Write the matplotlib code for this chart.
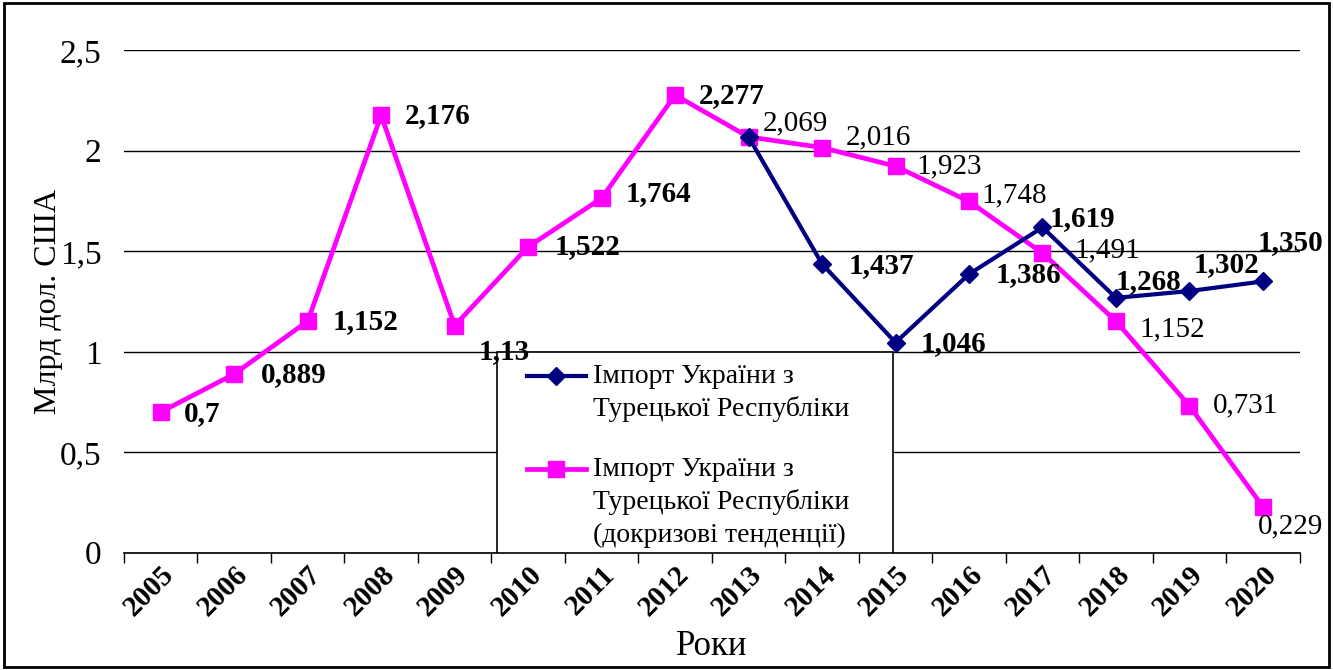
import matplotlib.pyplot as plt
from matplotlib.patches import Rectangle
from matplotlib.legend_handler import HandlerLine2D

plt.rcParams['font.family'] = ['Liberation Serif', 'DejaVu Serif']

# --------------------------------------------------
# Data
# --------------------------------------------------
years = ["2005", "2006", "2007", "2008", "2009", "2010", "2011", "2012",
         "2013", "2014", "2015", "2016", "2017", "2018", "2019", "2020"]

# pre-crisis trend (pink), whole period
trend_vals = [0.7, 0.889, 1.152, 2.176, 1.13, 1.522, 1.764, 2.277,
              2.069, 2.016, 1.923, 1.748, 1.491, 1.152, 0.731, 0.229]
trend_text = ["0,7", "0,889", "1,152", "2,176", "1,13", "1,522", "1,764", "2,277",
              "2,069", "2,016", "1,923", "1,748", "1,491", "1,152", "0,731", "0,229"]

# actual import (navy), from 2013
actual_years = years[8:]
actual_vals = [2.069, 1.437, 1.046, 1.386, 1.619, 1.268, 1.302, 1.350]
actual_text = [None, "1,437", "1,046", "1,386", "1,619", "1,268", "1,302", "1,350"]

yticks = [0, 0.5, 1, 1.5, 2, 2.5]
ytick_labels = ["0", "0,5", "1", "1,5", "2", "2,5"]

legend_actual = "Імпорт України з\nТурецької Республіки"
legend_trend = "Імпорт України з\nТурецької Республіки\n(докризові тенденції)"

# label offsets in points (dx, dy), text is left-aligned
trend_offsets = [(17, -1), (19, 0), (18, 0), (17, 0), (17, -19), (19, 0), (17, 3), (17, 0),
                 (10, 10), (17, 7), (15, 0), (9, 4), (23, 2), (17, -6), (17, 0), (-4, -14)]
actual_offsets = [None, (19, -1), (18, -1), (19, 0), (5, 6), (0, 12), (3, 19), (-4, 28)]


class FirstLineHandler(HandlerLine2D):
    # put the legend handle next to the first line of a multi-line label
    def __init__(self, nlines, **kw):
        super().__init__(**kw)
        self.nlines = nlines

    def create_artists(self, legend, orig_handle, xdescent, ydescent,
                       width, height, fontsize, trans):
        arts = super().create_artists(legend, orig_handle, xdescent, ydescent,
                                      width, height, fontsize, trans)
        shift = (self.nlines - 1) / 2 * 1.2 * fontsize
        for a in arts:
            a.set_ydata([y + shift for y in a.get_ydata()])
        return arts


# --------------------------------------------------
# Plot
# --------------------------------------------------
fig = plt.figure(figsize=(13.33, 6.70), dpi=100)
ax = fig.add_axes([0.093, 0.175, 0.882, 0.75])

x_trend = [i + 0.5 for i in range(len(years))]
x_actual = [years.index(y) + 0.5 for y in actual_years]

line_trend, = ax.plot(x_trend, trend_vals, color="#FF00FF", lw=3.4, marker="s", ms=12,
                      zorder=3)
line_actual, = ax.plot(x_actual, actual_vals, color="#000080", lw=3, marker="D", ms=9,
                       zorder=4)

for i, (xv, yv, t) in enumerate(zip(x_trend, trend_vals, trend_text)):
    dx, dy = trend_offsets[i]
    ax.annotate(t, (xv, yv), xytext=(dx, dy), textcoords="offset points",
                ha="left", va="center", fontsize=21,
                fontweight="bold" if i < 8 else "normal", zorder=6)

for i, (xv, yv, t) in enumerate(zip(x_actual, actual_vals, actual_text)):
    if t is None:
        continue
    dx, dy = actual_offsets[i]
    ax.annotate(t, (xv, yv), xytext=(dx, dy), textcoords="offset points",
                ha="left", va="center", fontsize=21, fontweight="bold", zorder=6)

ax.set_xlim(0, len(years))
ax.set_ylim(0, 2.5)
ax.set_yticks(yticks)
ax.set_yticklabels(ytick_labels, fontsize=24)
ax.tick_params(axis="y", length=0, pad=16)

ax.set_xticks(range(len(years) + 1))
ax.set_xticklabels([])
ax.set_xticks(x_trend, minor=True)
ax.set_xticklabels(years, minor=True, rotation=45, ha="right", va="top",
                   rotation_mode="anchor", fontsize=21, fontweight="bold")
ax.tick_params(axis="x", which="major", length=7, width=1, direction="out")
ax.tick_params(axis="x", which="minor", length=0, pad=6)

ax.grid(axis="y", color="black", lw=1)
ax.set_axisbelow(True)
for s in ["left", "top", "right"]:
    ax.spines[s].set_visible(False)
ax.spines["bottom"].set_linewidth(1.2)

ax.set_ylabel("Млрд дол. США", fontsize=23, labelpad=-2)
ax.set_xlabel("Роки", fontsize=25, labelpad=6)

# legend: text laid out by matplotlib, frame drawn as a plain box
leg = ax.legend([line_actual, line_trend], [legend_actual, legend_trend],
                loc="upper left", bbox_to_anchor=(0.343, 0.376), fontsize=20,
                frameon=False, handlelength=2.1, handletextpad=0.25,
                labelspacing=1.25, borderpad=0, borderaxespad=0,
                handler_map={line_actual: FirstLineHandler(2),
                             line_trend: FirstLineHandler(3)})
for t in leg.get_texts():
    t.set_linespacing(1.37)
leg.set_zorder(5)
ax.add_patch(Rectangle((0.317, 0.0), 0.337, 0.4, transform=ax.transAxes,
                       facecolor="white", edgecolor="black", lw=1.2, zorder=4.5))

fig.patches.append(Rectangle((0.003, 0.004), 0.994, 0.992, transform=fig.transFigure,
                             fill=False, edgecolor="black", lw=2))

plt.savefig("out.png", dpi=100)
